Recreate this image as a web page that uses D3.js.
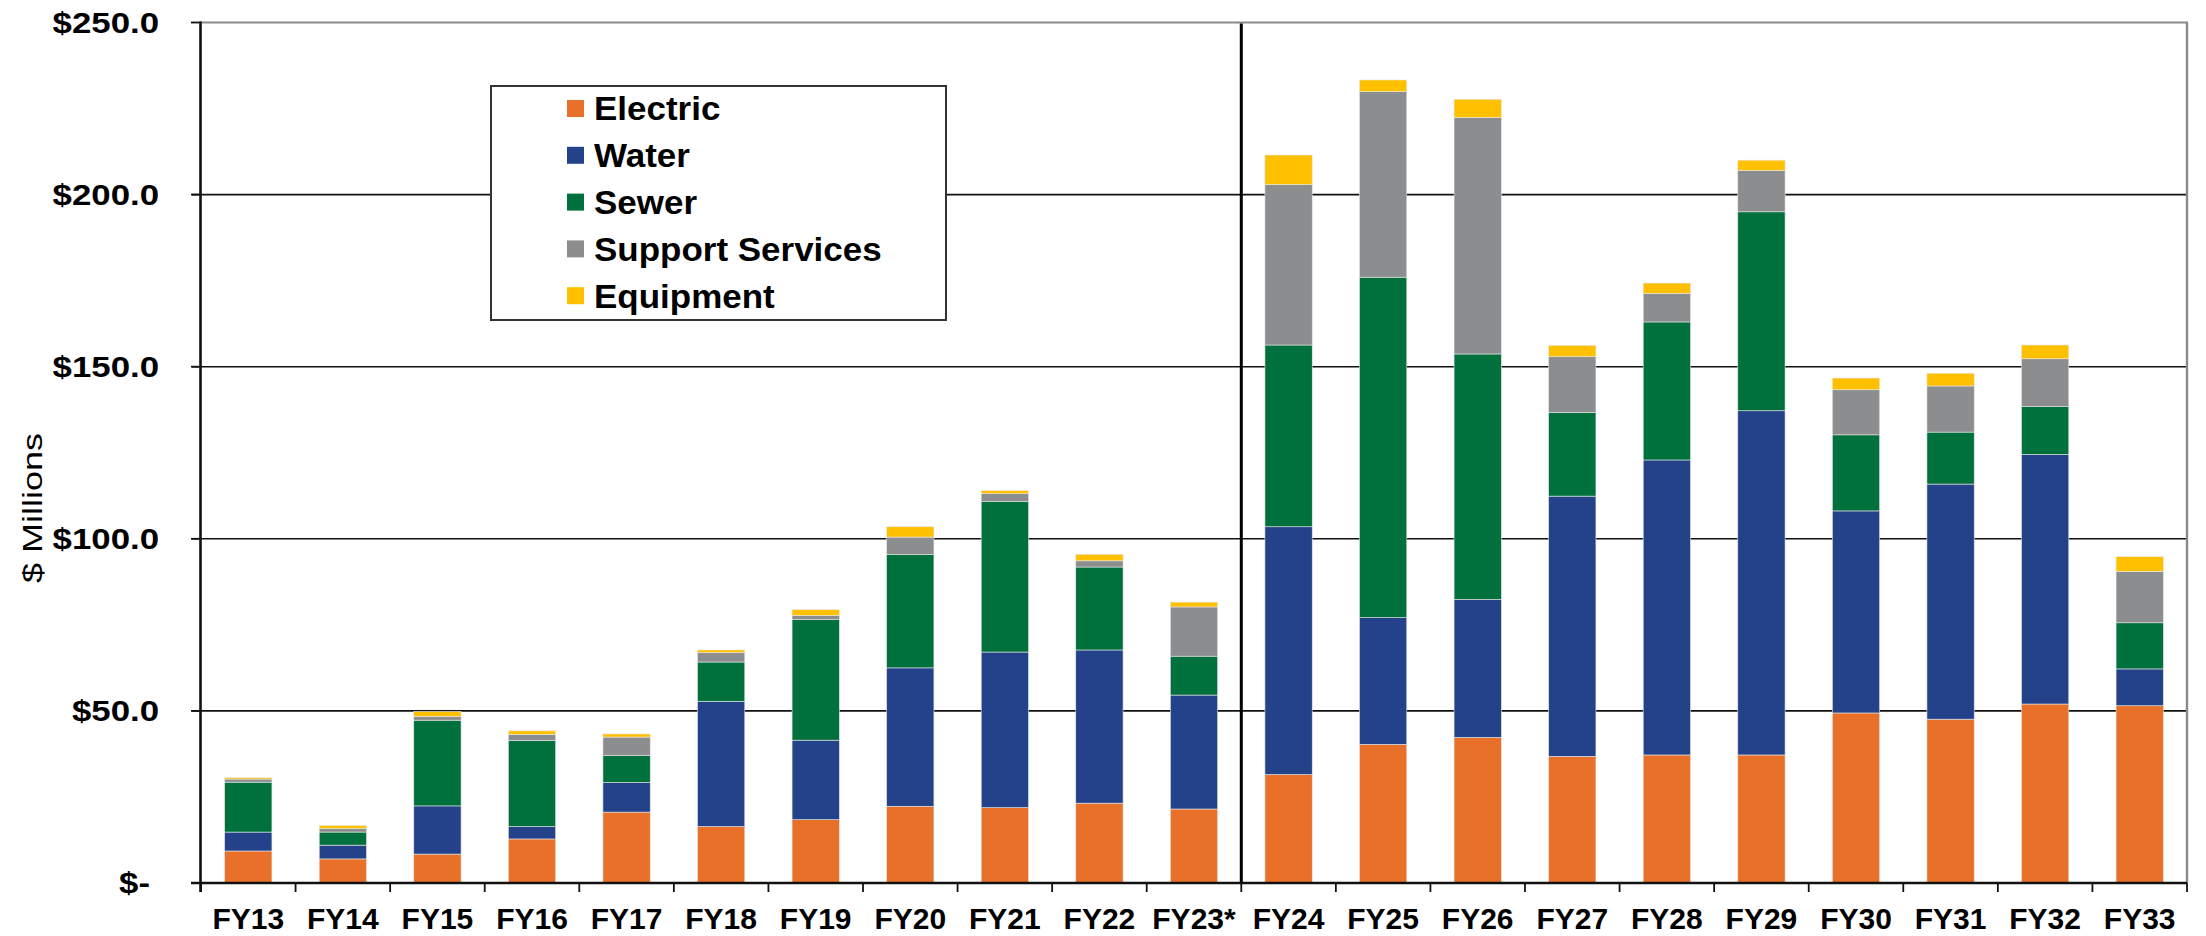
<!DOCTYPE html>
<html>
<head>
<meta charset="utf-8">
<script src="https://cdn.jsdelivr.net/npm/d3@7/dist/d3.min.js"></script>
<style>
  html, body { margin: 0; padding: 0; background: #ffffff; }
  svg { display: block; font-family: "Liberation Sans", Arial, sans-serif; }
</style>
</head>
<body>
<svg id="chart" width="2206" height="936"></svg>
<script>
// Capital spending by fiscal year, $ millions
const categories = ["FY13","FY14","FY15","FY16","FY17","FY18","FY19","FY20","FY21","FY22","FY23*",
                    "FY24","FY25","FY26","FY27","FY28","FY29","FY30","FY31","FY32","FY33"];
const electric  = [9.3, 7.0, 8.4, 12.8, 20.6, 16.4, 18.4, 22.3, 21.9, 23.2, 21.5, 31.5, 40.3, 42.3, 36.8, 37.2, 37.2, 49.4, 47.6, 52.0, 51.5];
const water     = [5.5, 4.0, 14.0, 3.6, 8.6, 36.4, 23.1, 40.2, 45.2, 44.5, 33.1, 72.0, 36.8, 40.1, 75.6, 85.7, 100.0, 58.7, 68.3, 72.5, 10.7];
const sewer     = [14.5, 3.8, 24.9, 25.0, 7.8, 11.4, 35.0, 33.0, 43.7, 24.1, 11.3, 52.8, 98.9, 71.3, 24.3, 40.1, 57.8, 22.1, 15.1, 13.9, 13.4];
const support   = [0.9, 1.0, 1.1, 1.8, 5.4, 2.7, 1.2, 5.0, 2.3, 1.8, 14.3, 46.6, 53.9, 68.7, 16.2, 8.3, 12.0, 13.1, 13.4, 13.9, 14.9];
const equipment = [0.4, 0.9, 1.4, 1.0, 0.9, 0.8, 1.7, 3.0, 0.9, 1.9, 1.4, 8.6, 3.4, 5.3, 3.3, 3.0, 3.0, 3.4, 3.7, 4.0, 4.3];

const seriesNames  = ["Electric", "Water", "Sewer", "Support Services", "Equipment"];
const seriesColors = ["#E97028", "#23428A", "#00703C", "#8C8D8F", "#FFC000"];
const yTicks       = [0, 50, 100, 150, 200, 250];
const yTickLabels  = ["$-", "$50.0", "$100.0", "$150.0", "$200.0", "$250.0"];
const yTitle       = "$ Millions";
const dividerAfter = "FY23*";   // actuals / projection split

const seriesValues = [electric, water, sewer, support, equipment];
const rows = categories.map((c, i) => {
  const r = { category: c };
  seriesNames.forEach((s, k) => { r[s] = seriesValues[k][i]; });
  return r;
});

const svg = d3.select("#chart");
const plot = { left: 201, right: 2187, top: 22.5, bottom: 883 };

const x = d3.scaleBand()
  .domain(categories)
  .range([plot.left, plot.right])
  .paddingInner(0.5)
  .paddingOuter(0.25);

const y = d3.scaleLinear()
  .domain([0, 250])
  .range([plot.bottom, plot.top]);

const color = d3.scaleOrdinal().domain(seriesNames).range(seriesColors);

// horizontal gridlines
svg.append("g")
  .selectAll("line")
  .data(yTicks.filter(v => v > 0 && v < 250))
  .join("line")
  .attr("x1", plot.left - 9).attr("x2", plot.right)
  .attr("y1", d => y(d)).attr("y2", d => y(d))
  .attr("stroke", "#111").attr("stroke-width", 1.6);

// stacked bars
const stacked = d3.stack().keys(seriesNames)(rows);
svg.append("g")
  .selectAll("g")
  .data(stacked)
  .join("g")
  .attr("fill", d => color(d.key))
  .selectAll("rect")
  .data(d => d)
  .join("rect")
  .attr("x", d => x(d.data.category))
  .attr("width", x.bandwidth())
  .attr("y", d => y(d[1]))
  .attr("height", d => y(d[0]) - y(d[1]))
  .attr("stroke", "#e6e6e6")
  .attr("stroke-width", 0.6);

// plot frame: top and right in gray
svg.append("line")
  .attr("x1", plot.left).attr("x2", plot.right + 1)
  .attr("y1", plot.top).attr("y2", plot.top)
  .attr("stroke", "#8a8a8a").attr("stroke-width", 2.2);
svg.append("line")
  .attr("x1", plot.right).attr("x2", plot.right)
  .attr("y1", plot.top).attr("y2", plot.bottom)
  .attr("stroke", "#8a8a8a").attr("stroke-width", 2.4);

// divider between actuals and projections
const step = x.step();
const divX = x(dividerAfter) + x.bandwidth() + step * x.paddingInner() / 2;
svg.append("line")
  .attr("x1", divX).attr("x2", divX)
  .attr("y1", plot.top + 1).attr("y2", plot.bottom)
  .attr("stroke", "#000").attr("stroke-width", 3);

// y axis
const yAxis = svg.append("g");
yAxis.append("line")
  .attr("x1", plot.left - 0.5).attr("x2", plot.left - 0.5)
  .attr("y1", plot.top - 1).attr("y2", plot.bottom + 9)
  .attr("stroke", "#111").attr("stroke-width", 2.6);
yAxis.selectAll("line.tick")
  .data(yTicks)
  .join("line")
  .attr("class", "tick")
  .attr("x1", plot.left - 10).attr("x2", plot.left)
  .attr("y1", d => y(d)).attr("y2", d => y(d))
  .attr("stroke", "#111").attr("stroke-width", 1.8);
yAxis.selectAll("text")
  .data(yTicks)
  .join("text")
  .attr("transform", (d, i) => `translate(${i === 0 ? 150 : 159},${y(d)}) scale(1.2,1)`)
  .attr("text-anchor", "end")
  .attr("dy", "0.36em")
  .attr("font-size", 29)
  .attr("font-weight", "bold")
  .attr("fill", "#000")
  .text((d, i) => yTickLabels[i]);

// y axis title
svg.append("text")
  .attr("transform", `translate(42,508) rotate(-90)`)
  .attr("text-anchor", "middle")
  .attr("font-size", 28)
  .attr("textLength", 150)
  .attr("lengthAdjust", "spacingAndGlyphs")
  .attr("fill", "#000")
  .text(yTitle);

// x axis with ticks on category boundaries
const xAxis = svg.append("g");
xAxis.append("line")
  .attr("x1", plot.left - 10).attr("x2", plot.right)
  .attr("y1", plot.bottom).attr("y2", plot.bottom)
  .attr("stroke", "#111").attr("stroke-width", 2.4);
const boundaries = categories.map(c => x(c) - step * x.paddingInner() / 2)
  .concat([x(categories[categories.length - 1]) + x.bandwidth() + step * x.paddingInner() / 2]);
xAxis.selectAll("line.tick")
  .data(boundaries)
  .join("line")
  .attr("class", "tick")
  .attr("x1", d => d).attr("x2", d => d)
  .attr("y1", plot.bottom).attr("y2", plot.bottom + 9)
  .attr("stroke", "#111").attr("stroke-width", 1.8);
xAxis.selectAll("text")
  .data(categories)
  .join("text")
  .attr("x", d => x(d) + x.bandwidth() / 2)
  .attr("y", 929)
  .attr("text-anchor", "middle")
  .attr("font-size", 30)
  .attr("font-weight", "bold")
  .attr("fill", "#000")
  .text(d => d);

// legend
const legend = svg.append("g");
legend.append("rect")
  .attr("x", 491).attr("y", 86)
  .attr("width", 455).attr("height", 234)
  .attr("fill", "#fff")
  .attr("stroke", "#333").attr("stroke-width", 2);
const items = legend.selectAll("g.item")
  .data(seriesNames)
  .join("g")
  .attr("class", "item")
  .attr("transform", (d, i) => `translate(567,${108.5 + i * 46.8})`);
items.append("rect")
  .attr("x", 0).attr("y", -8.5)
  .attr("width", 17).attr("height", 17)
  .attr("fill", d => color(d));
items.append("text")
  .attr("transform", "translate(27,0) scale(1.06,1)")
  .attr("dy", "0.36em")
  .attr("font-size", 33)
  .attr("font-weight", "bold")
  .attr("fill", "#000")
  .text(d => d);
</script>
</body>
</html>
